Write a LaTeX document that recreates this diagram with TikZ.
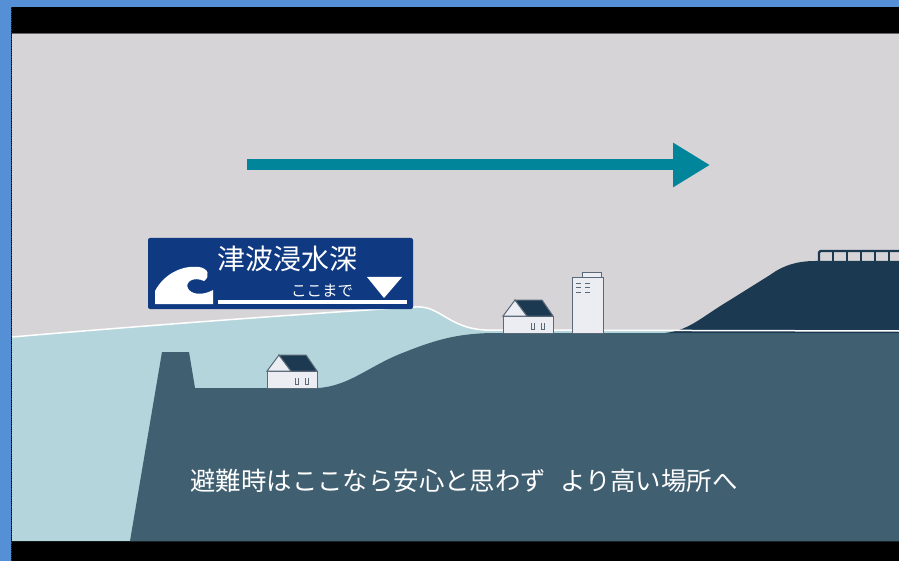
\documentclass[tikz,border=0pt]{standalone}
\usepackage{fontspec}
\newfontfamily\jpfont{Noto Sans CJK JP}
\usetikzlibrary{arrows.meta}
\definecolor{myframe}{RGB}{85,143,213}
\definecolor{mysky}{RGB}{214,212,215}
\definecolor{mywater}{RGB}{180,213,220}
\definecolor{myground}{RGB}{64,95,113}
\definecolor{mynavy}{RGB}{27,57,81}
\definecolor{mysign}{RGB}{15,58,130}
\definecolor{myarrow}{RGB}{0,133,155}
\definecolor{myhouse}{RGB}{236,237,242}
\definecolor{myedge}{RGB}{90,105,120}

\tikzset{
  house/.style={fill=myhouse, draw=myedge, line width=1},
  roof/.style={fill=mynavy, draw=myedge, line width=1},
  window/.style={draw=myedge, line width=1},
}

\begin{document}
\begin{tikzpicture}[x=1pt,y=-1pt]
\useasboundingbox (0,0) rectangle (899,561);

% frame and black bars
\fill[myframe] (0,0) rectangle (899,561);
\fill[black] (11,7) rectangle (899,561);
\fill[mysky] (12,34) rectangle (899,541);
\draw[black!60, line width=1] (12,33.5) -- (899,33.5);
\draw[black!80, densely dotted, line width=0.8] (11.5,7) -- (11.5,561);

\begin{scope}
\clip (12,34) rectangle (899,541);

% sea
\fill[mywater] (12,337) .. controls (150,325) and (330,312) .. (415,307)
  .. controls (440,305) and (448,328) .. (485,330) -- (899,331)
  -- (899,541) -- (12,541) -- cycle;

% land with the sea wall
\fill[myground] (130,541) -- (162,352) -- (189,352) -- (195,388) -- (318,388)
  .. controls (350,386) and (370,365) .. (405,352)
  .. controls (440,338) and (460,334) .. (490,333) -- (899,333)
  -- (899,541) -- cycle;

% high ground on the right
\fill[mynavy] (665,333) .. controls (690,330) and (700,318) .. (730,300)
  -- (770,275) .. controls (785,264) and (800,261) .. (815,261)
  -- (899,261) -- (899,333) -- cycle;
\draw[mynavy, line width=2.2, rounded corners=1.5] (819,261) -- (819,251) -- (905,251);
\foreach \px in {833,847,...,903}
  \draw[mynavy, line width=2.2] (\px,251) -- (\px,261);

% water line
\draw[white, line width=1.5] (12,337) .. controls (150,325) and (330,312) .. (415,307)
  .. controls (440,305) and (448,328) .. (485,330) -- (899,331);
\end{scope}

% houses
\foreach \hx/\hy in {503/333, 267/388}{
  \begin{scope}[shift={(\hx,\hy)}]
    \draw[house] (0,0) rectangle (50,-17);
    \draw[house] (0,-17) -- (12,-33) -- (24,-17) -- cycle;
    \draw[roof] (12,-33) -- (39,-33) -- (50,-17) -- (24,-17) -- cycle;
    \draw[window] (28,-10) -- (28,-4) -- (31.5,-4) -- (31.5,-10);
    \draw[window] (38,-10) -- (38,-4) -- (41.5,-4) -- (41.5,-10);
  \end{scope}
}

% tall building
\draw[house] (582,273) rectangle (601,278);
\draw[house] (572,278) rectangle (603,333);
\foreach \wy in {283,287,292}{
  \draw[window] (576,\wy) -- (581,\wy);
  \draw[window] (585,\wy) -- (590,\wy);
}

% inundation sign
\fill[mysign, rounded corners=2] (148,238) rectangle (413,309);
\fill[white] (155,304) -- (155,291)
  .. controls (164,274) and (182,265) .. (199,267)
  .. controls (208,268) and (211,276) .. (204,281)
  .. controls (194,276) and (183,282) .. (189,290)
  .. controls (195,296) and (206,294) .. (213,290)
  -- (213,304) -- cycle;
\node (title) at (287,259) {\jpfont\fontsize{28}{28}\selectfont\color{white}津波浸水深};
\node (here) at (322,291) {\jpfont\fontsize{15.5}{15.5}\selectfont\color{white}ここまで};
\fill[white] (218,300) rectangle (407,304);
\fill[white] (367,277) -- (402,277) -- (384,298) -- cycle;

% direction of the wave
\coordinate (A) at (247,165);
\coordinate (B) at (710,165);
\draw[myarrow, line width=11, -{Triangle[length=37pt, width=42pt]}] (A) -- (B);

% caption
\node (caption) [anchor=west] at (187,481)
  {\jpfont\fontsize{25.4}{25.4}\selectfont\color{white}避難時はここなら安心と思わず\hspace{0.55em}より高い場所へ};
\end{tikzpicture}
\end{document}
